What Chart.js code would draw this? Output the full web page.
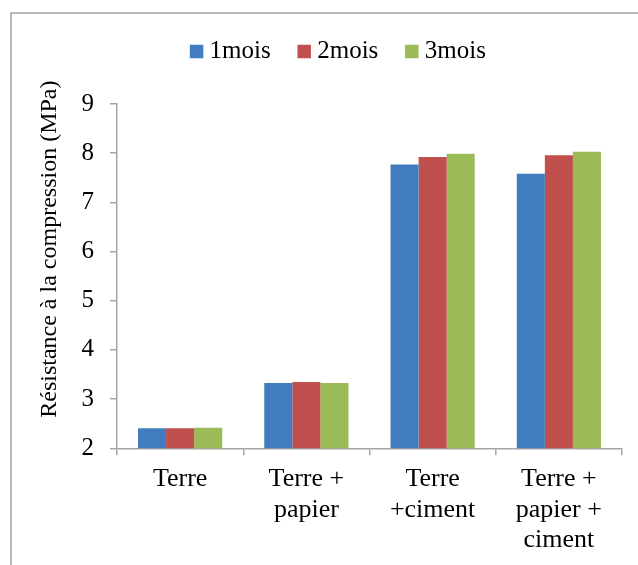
<!DOCTYPE html>
<html>
<head>
<meta charset="utf-8">
<script src="https://cdn.jsdelivr.net/npm/chart.js@4.4.1/dist/chart.umd.min.js"></script>
<style>
  html, body { margin: 0; padding: 0; background: #ffffff; }
  #wrap { width: 638px; height: 565px; position: relative; }
</style>
</head>
<body>
<div id="wrap"><canvas id="c" width="638" height="565"></canvas></div>
<script>
const categories = [['Terre'], ['Terre +', 'papier'], ['Terre', '+ciment'], ['Terre +', 'papier +', 'ciment']];
const seriesNames = ['1mois', '2mois', '3mois'];
const mois1 = [2.41, 3.33, 7.77, 7.58];
const mois2 = [2.41, 3.35, 7.92, 7.96];
const mois3 = [2.42, 3.33, 7.99, 8.03];
const yTicks = [2, 3, 4, 5, 6, 7, 8, 9];
const yTitle = 'Résistance à la compression (MPa)';

const colors = ['#417CBE', '#C0504D', '#9BBB59'];
const axisGray = '#a6a6a6';
const serif = '"Liberation Serif", "Times New Roman", serif';

const framePlugin = {
  id: 'frame',
  beforeDraw(chart) {
    const ctx = chart.ctx;
    ctx.save();
    ctx.fillStyle = '#ffffff';
    ctx.fillRect(0, 0, chart.width, chart.height);
    ctx.strokeStyle = '#a0a0a0';
    ctx.lineWidth = 1.5;
    ctx.strokeRect(11, 13, 700, 700);
    ctx.restore();
  }
};

new Chart(document.getElementById('c'), {
  type: 'bar',
  data: {
    labels: categories,
    datasets: [
      { label: seriesNames[0], data: mois1, backgroundColor: colors[0] },
      { label: seriesNames[1], data: mois2, backgroundColor: colors[1] },
      { label: seriesNames[2], data: mois3, backgroundColor: colors[2] }
    ]
  },
  options: {
    responsive: false,
    animation: false,
    devicePixelRatio: 1,
    layout: { padding: { left: 60, right: 16, top: 6, bottom: 0 } },
    datasets: { bar: { categoryPercentage: 0.667, barPercentage: 1.0, borderWidth: 0 } },
    plugins: {
      legend: {
        position: 'top',
        weight: 3000,
        labels: {
          font: { family: serif, size: 25 },
          color: '#000000',
          usePointStyle: true,
          pointStyle: 'rect',
          boxWidth: 1,
          boxHeight: 13.5,
          padding: 33
        }
      },
      tooltip: { enabled: false }
    },
    scales: {
      x: {
        type: 'category',
        position: 'bottom',
        afterFit(s) { s.height = 116.7; },
        grid: { display: true, drawOnChartArea: false, drawTicks: true, tickLength: 7, color: axisGray, lineWidth: 1.5, offset: true },
        border: { display: true, color: axisGray, width: 1.5 },
        ticks: { font: { family: serif, size: 26, lineHeight: 1.19 }, color: '#000000', padding: 8, maxRotation: 0, autoSkip: false }
      },
      y: {
        type: 'linear',
        position: 'left',
        min: yTicks[0],
        max: yTicks[yTicks.length - 1],
        afterFit(s) { s.width = 57; },
        afterBuildTicks(s) { s.ticks = yTicks.map(v => ({ value: v })); },
        grid: { display: true, drawOnChartArea: false, drawTicks: true, tickLength: 7, color: axisGray, lineWidth: 1.5 },
        border: { display: true, color: axisGray, width: 1.5 },
        ticks: { font: { family: serif, size: 25 }, color: '#000000', padding: 16 },
        title: {
          display: true,
          text: '\u0020\u0020\u0020\u0020\u0020\u0020\u0020\u0020\u0020' + yTitle,
          font: { family: serif, size: 24 },
          color: '#000000',
          padding: { top: -24.4, bottom: 0 }
        }
      },
      spacer: {
        type: 'linear',
        position: 'top',
        display: true,
        afterFit(s) { s.height = 30; },
        grid: { display: false },
        border: { display: false },
        ticks: { display: false }
      }
    }
  },
  plugins: [framePlugin]
});
</script>
</body>
</html>
